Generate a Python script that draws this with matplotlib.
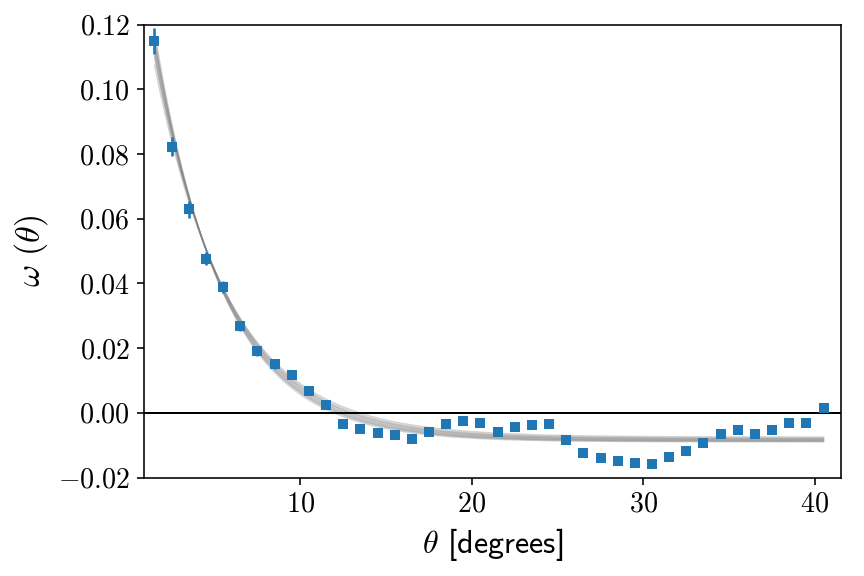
"""Angular correlation w(theta) with a family of exponential model curves."""
import numpy as np
import matplotlib
matplotlib.use("Agg")
import matplotlib.pyplot as plt
from matplotlib.ticker import FormatStrFormatter, MultipleLocator

# measured points (bin centres in degrees)
theta = [1.5, 2.5, 3.5, 4.5, 5.5, 6.5, 7.5, 8.5, 9.5, 10.5,
         11.5, 12.5, 13.5, 14.5, 15.5, 16.5, 17.5, 18.5, 19.5, 20.5,
         21.5, 22.5, 23.5, 24.5, 25.5, 26.5, 27.5, 28.5, 29.5, 30.5,
         31.5, 32.5, 33.5, 34.5, 35.5, 36.5, 37.5, 38.5, 39.5, 40.5]
w = [0.1149, 0.0823, 0.0629, 0.0477, 0.0390, 0.0269, 0.0192, 0.0151, 0.0117, 0.0069,
     0.0023, -0.0035, -0.0049, -0.0063, -0.0070, -0.0080, -0.0060, -0.0035, -0.0025, -0.0032,
     -0.0059, -0.0044, -0.0039, -0.0035, -0.0085, -0.0124, -0.0141, -0.0149, -0.0155, -0.0159,
     -0.0138, -0.0118, -0.0093, -0.0066, -0.0052, -0.0065, -0.0052, -0.0032, -0.0031, 0.0015]
w_err = [0.0040, 0.0030, 0.0026, 0.0020, 0.0018, 0.0016, 0.0015, 0.0014, 0.0013, 0.0013,
         0.0012, 0.0013, 0.0012, 0.0012, 0.0012, 0.0013, 0.0012, 0.0012, 0.0012, 0.0012,
         0.0012, 0.0012, 0.0012, 0.0012, 0.0012, 0.0012, 0.0012, 0.0013, 0.0012, 0.0013,
         0.0012, 0.0012, 0.0012, 0.0012, 0.0012, 0.0012, 0.0012, 0.0012, 0.0013, 0.0013]

# model draws: w = amp * exp(-theta / scale) + offset
amp = [0.162, 0.167, 0.171, 0.174, 0.178, 0.182, 0.186, 0.169, 0.176, 0.180]
scale = [4.38, 4.30, 4.22, 4.16, 4.08, 4.01, 3.94, 4.25, 4.12, 4.04]
offset = [-0.0075, -0.0078, -0.0081, -0.0083, -0.0086, -0.0088, -0.0090, -0.0080, -0.0084, -0.0087]

plt.rcParams.update({
    "mathtext.fontset": "cm",
    "font.family": "serif",
    "font.serif": ["cmr10", "DejaVu Serif"],
    "axes.unicode_minus": True,
})

fig, ax = plt.subplots(figsize=(6.0, 4.0), dpi=144)
fig.subplots_adjust(left=0.1665, right=0.973, top=0.957, bottom=0.171)

tgrid = np.linspace(min(theta), max(theta), 400)
for a, s, c in zip(amp, scale, offset):
    ax.plot(tgrid, a * np.exp(-tgrid / s) + c, color="gray", alpha=0.35, lw=0.7)

ax.axhline(0.0, color="k", lw=1.0)
ax.errorbar(theta, w, yerr=w_err, fmt="s", color="#1f77b4", ms=4,
            elinewidth=1.3, capsize=0, zorder=3)

ax.set_xlim(0.88, 41.5)
ax.set_ylim(-0.02, 0.12)
ax.xaxis.set_major_locator(MultipleLocator(10))
ax.yaxis.set_major_locator(MultipleLocator(0.02))
ax.xaxis.set_major_formatter(FormatStrFormatter(r"$%d$"))
ax.yaxis.set_major_formatter(FormatStrFormatter(r"$%.2f$"))
ax.tick_params(labelsize=14)

ax.set_xlabel(r"$\theta$ [degrees]", fontsize=16, family="cmss10")
ax.set_ylabel(r"$\omega\ (\theta)$", fontsize=17)

fig.savefig("out.png", dpi=144)
plt.close(fig)
